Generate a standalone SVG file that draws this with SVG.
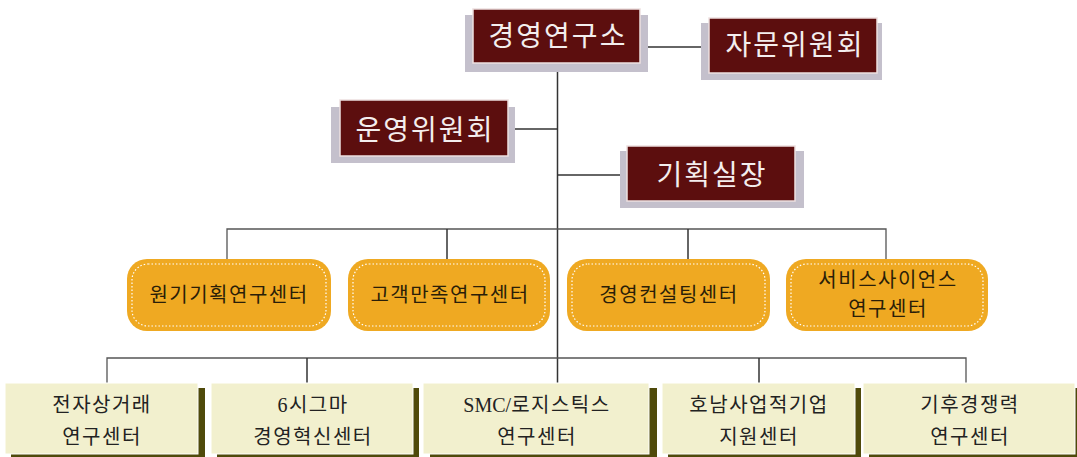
<svg xmlns="http://www.w3.org/2000/svg" width="1077" height="457" viewBox="0 0 1077 457">
<style>
.sh{fill:#C4C0CC}
.mr{fill:#5C0E0E;stroke:#EDE0E0;stroke-width:1.5}
.mt{fill:#F4EEEE;font-family:"Liberation Serif","Noto Sans CJK KR",serif;font-size:28px;letter-spacing:2px;text-anchor:middle}
.or{fill:#EFA922}
.od{fill:none;stroke:#FFFFFF;stroke-width:1.2;stroke-dasharray:1.5 2}
.ot{fill:#2A1E08;font-family:"Liberation Serif","Noto Sans CJK KR",serif;font-size:20px;letter-spacing:1.5px;text-anchor:middle}
.bs{fill:#4F4A0A}
.bf{fill:#F2F0CE;stroke:#FFFFFF;stroke-width:1}
.bt{fill:#222;font-family:"Liberation Serif","Noto Sans CJK KR",serif;font-size:20px;letter-spacing:1.5px;text-anchor:middle}
.ln{fill:none;stroke:#333;stroke-width:1.5}
.lg{fill:none;stroke:#555;stroke-width:1.3}
</style>
<rect width="1077" height="457" fill="#FFFFFF"/>
<g id="connectors">
<line class="ln" x1="557.5" y1="63" x2="557.5" y2="383"/>
<line class="ln" x1="648" y1="47" x2="701" y2="47"/>
<line class="ln" x1="515" y1="129" x2="557.5" y2="129"/>
<line class="ln" x1="557.5" y1="175" x2="620" y2="175"/>
<polyline class="lg" points="227,259 227,229 886,229 886,259"/>
<line class="ln" x1="447" y1="229" x2="447" y2="259"/>
<line class="ln" x1="688" y1="229" x2="688" y2="259"/>
<polyline class="lg" points="107,383 107,358 966,358 966,383"/>
<line class="ln" x1="307" y1="358" x2="307" y2="383"/>
<line class="ln" x1="759" y1="358" x2="759" y2="383"/>
</g>
<g id="n-top">
<rect class="sh" x="465" y="15" width="183" height="57"/>
<rect class="mr" x="473" y="9" width="167" height="54"/>
<text class="mt" x="558" y="46">경영연구소</text>
</g>
<g id="n-advisory">
<rect class="sh" x="701" y="23" width="181" height="57"/>
<rect class="mr" x="709" y="18" width="168" height="55"/>
<text class="mt" x="795" y="55">자문위원회</text>
</g>
<g id="n-operation">
<rect class="sh" x="331" y="107" width="184" height="56"/>
<rect class="mr" x="340" y="100" width="168" height="56"/>
<text class="mt" x="425" y="140">운영위원회</text>
</g>
<g id="n-planning">
<rect class="sh" x="620" y="151" width="184" height="57"/>
<rect class="mr" x="627" y="146" width="168" height="55"/>
<text class="mt" x="712" y="185">기획실장</text>
</g>
<g id="c1">
<rect class="or" x="127" y="259" width="204" height="72" rx="20"/>
<rect class="od" x="132" y="264" width="194" height="62" rx="16"/>
<text class="ot" x="229" y="302">원기기획연구센터</text>
</g>
<g id="c2">
<rect class="or" x="348" y="259" width="202" height="72" rx="20"/>
<rect class="od" x="353" y="264" width="192" height="62" rx="16"/>
<text class="ot" x="450" y="302">고객만족연구센터</text>
</g>
<g id="c3">
<rect class="or" x="567" y="259" width="203" height="72" rx="20"/>
<rect class="od" x="572" y="264" width="193" height="62" rx="16"/>
<text class="ot" x="669" y="302">경영컨설팅센터</text>
</g>
<g id="c4">
<rect class="or" x="786" y="259" width="202" height="72" rx="20"/>
<rect class="od" x="791" y="264" width="192" height="62" rx="16"/>
<text class="ot" x="888" y="287">서비스사이언스</text>
<text class="ot" x="888" y="316">연구센터</text>
</g>
<g id="b1">
<rect class="bs" x="11" y="388" width="194" height="72"/>
<rect class="bf" x="5" y="383" width="193" height="71"/>
<text class="bt" x="102" y="412">전자상거래</text>
<text class="bt" x="102" y="444">연구센터</text>
</g>
<g id="b2">
<rect class="bs" x="217" y="388" width="202" height="72"/>
<rect class="bf" x="211" y="383" width="202" height="71"/>
<text class="bt" x="313" y="412">6시그마</text>
<text class="bt" x="313" y="444">경영혁신센터</text>
</g>
<g id="b3">
<rect class="bs" x="430" y="388" width="227" height="72"/>
<rect class="bf" x="423" y="383" width="226" height="71"/>
<text class="bt" x="537" y="412"><tspan style="letter-spacing:0px">SMC/</tspan>로지스틱스</text>
<text class="bt" x="537" y="444">연구센터</text>
</g>
<g id="b4">
<rect class="bs" x="668" y="388" width="193" height="72"/>
<rect class="bf" x="662" y="383" width="193" height="71"/>
<text class="bt" x="759" y="412">호남사업적기업</text>
<text class="bt" x="759" y="444">지원센터</text>
</g>
<g id="b5">
<rect class="bs" x="869" y="388" width="212" height="72"/>
<rect class="bf" x="863" y="383" width="212" height="71"/>
<text class="bt" x="970" y="412">기후경쟁력</text>
<text class="bt" x="970" y="444">연구센터</text>
</g>
</svg>
